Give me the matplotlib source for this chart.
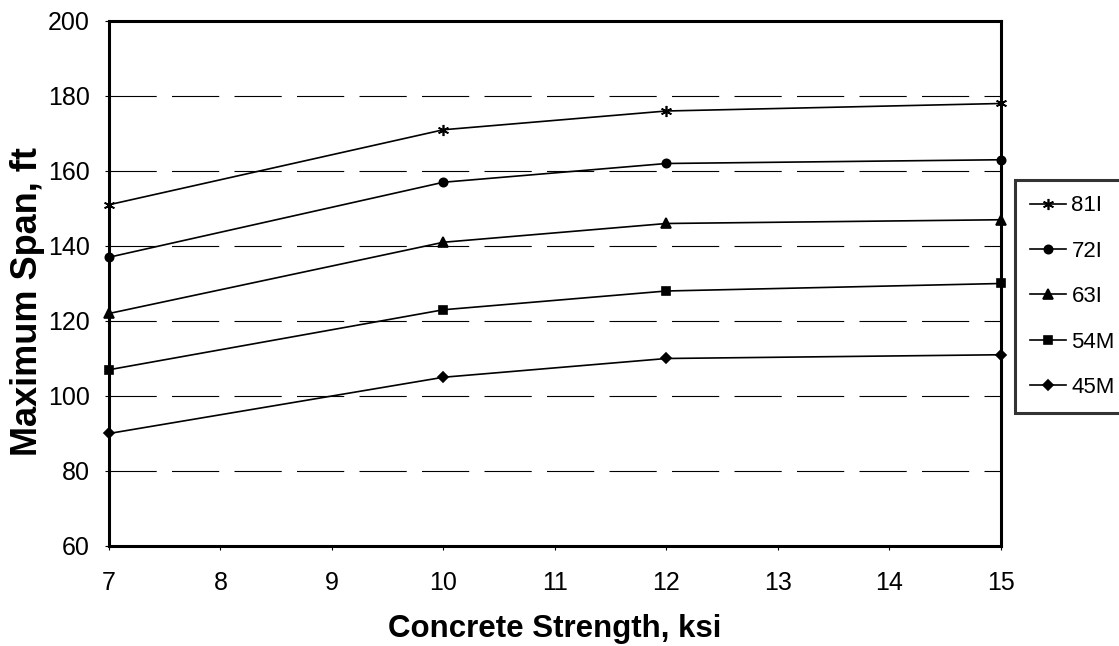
import matplotlib
matplotlib.use("Agg")
import matplotlib.pyplot as plt

plt.rcParams["font.family"] = ["Liberation Sans", "DejaVu Sans"]
plt.rcParams["lines.scale_dashes"] = False

strength = [7, 10, 12, 15]
s81I = [151, 171, 176, 178]
s72I = [137, 157, 162, 163]
s63I = [122, 141, 146, 147]
s54M = [107, 123, 128, 130]
s45M = [90, 105, 110, 111]

names = ["81I", "72I", "63I", "54M", "45M"]
series = [s81I, s72I, s63I, s54M, s45M]
marks = [(6, 2, 0), "o", "^", "s", "D"]
msizes = [8, 6, 7, 6, 5]

fig = plt.figure(figsize=(11.19, 6.46), dpi=100)
ax = fig.add_axes([0.0974, 0.1548, 0.797, 0.8127])

# dashed horizontal grid
for yv in range(80, 200, 20):
    ax.axhline(yv, color="black", lw=0.8, dashes=(34, 11), zorder=1)

for nm, ys, m, ms in zip(names, series, marks, msizes):
    ax.plot(strength, ys, color="black", lw=1.2, marker=m, markersize=ms,
            markeredgewidth=1.2, label=nm, zorder=3, clip_on=False)

ax.set_xlim(7, 15)
ax.set_ylim(60, 200)
ax.set_xticks(range(7, 16))
ax.set_yticks(range(60, 201, 20))
ax.tick_params(labelsize=18, direction="out", length=3, width=0.8)
ax.tick_params(axis="x", pad=15)
ax.tick_params(axis="y", pad=11)
for sp in ax.spines.values():
    sp.set_linewidth(2.2)

ax.set_xlabel("Concrete Strength, ksi", fontsize=22.5, fontweight="bold")
ax.set_ylabel("Maximum Span, ft", fontsize=26, fontweight="bold")
ax.xaxis.set_label_coords(0.5, -0.13)
ax.yaxis.set_label_coords(-0.072, 0.465)

leg = fig.legend(loc="upper left", bbox_to_anchor=(1015 / 1119, 1 - 180 / 646),
                 fontsize=16, frameon=True, fancybox=False, edgecolor="black",
                 handlelength=1.6, handletextpad=0.25, labelspacing=1.1,
                 borderpad=0.69, borderaxespad=0)
leg.get_frame().set_linewidth(2.2)

fig.savefig("out.png", dpi=100)
